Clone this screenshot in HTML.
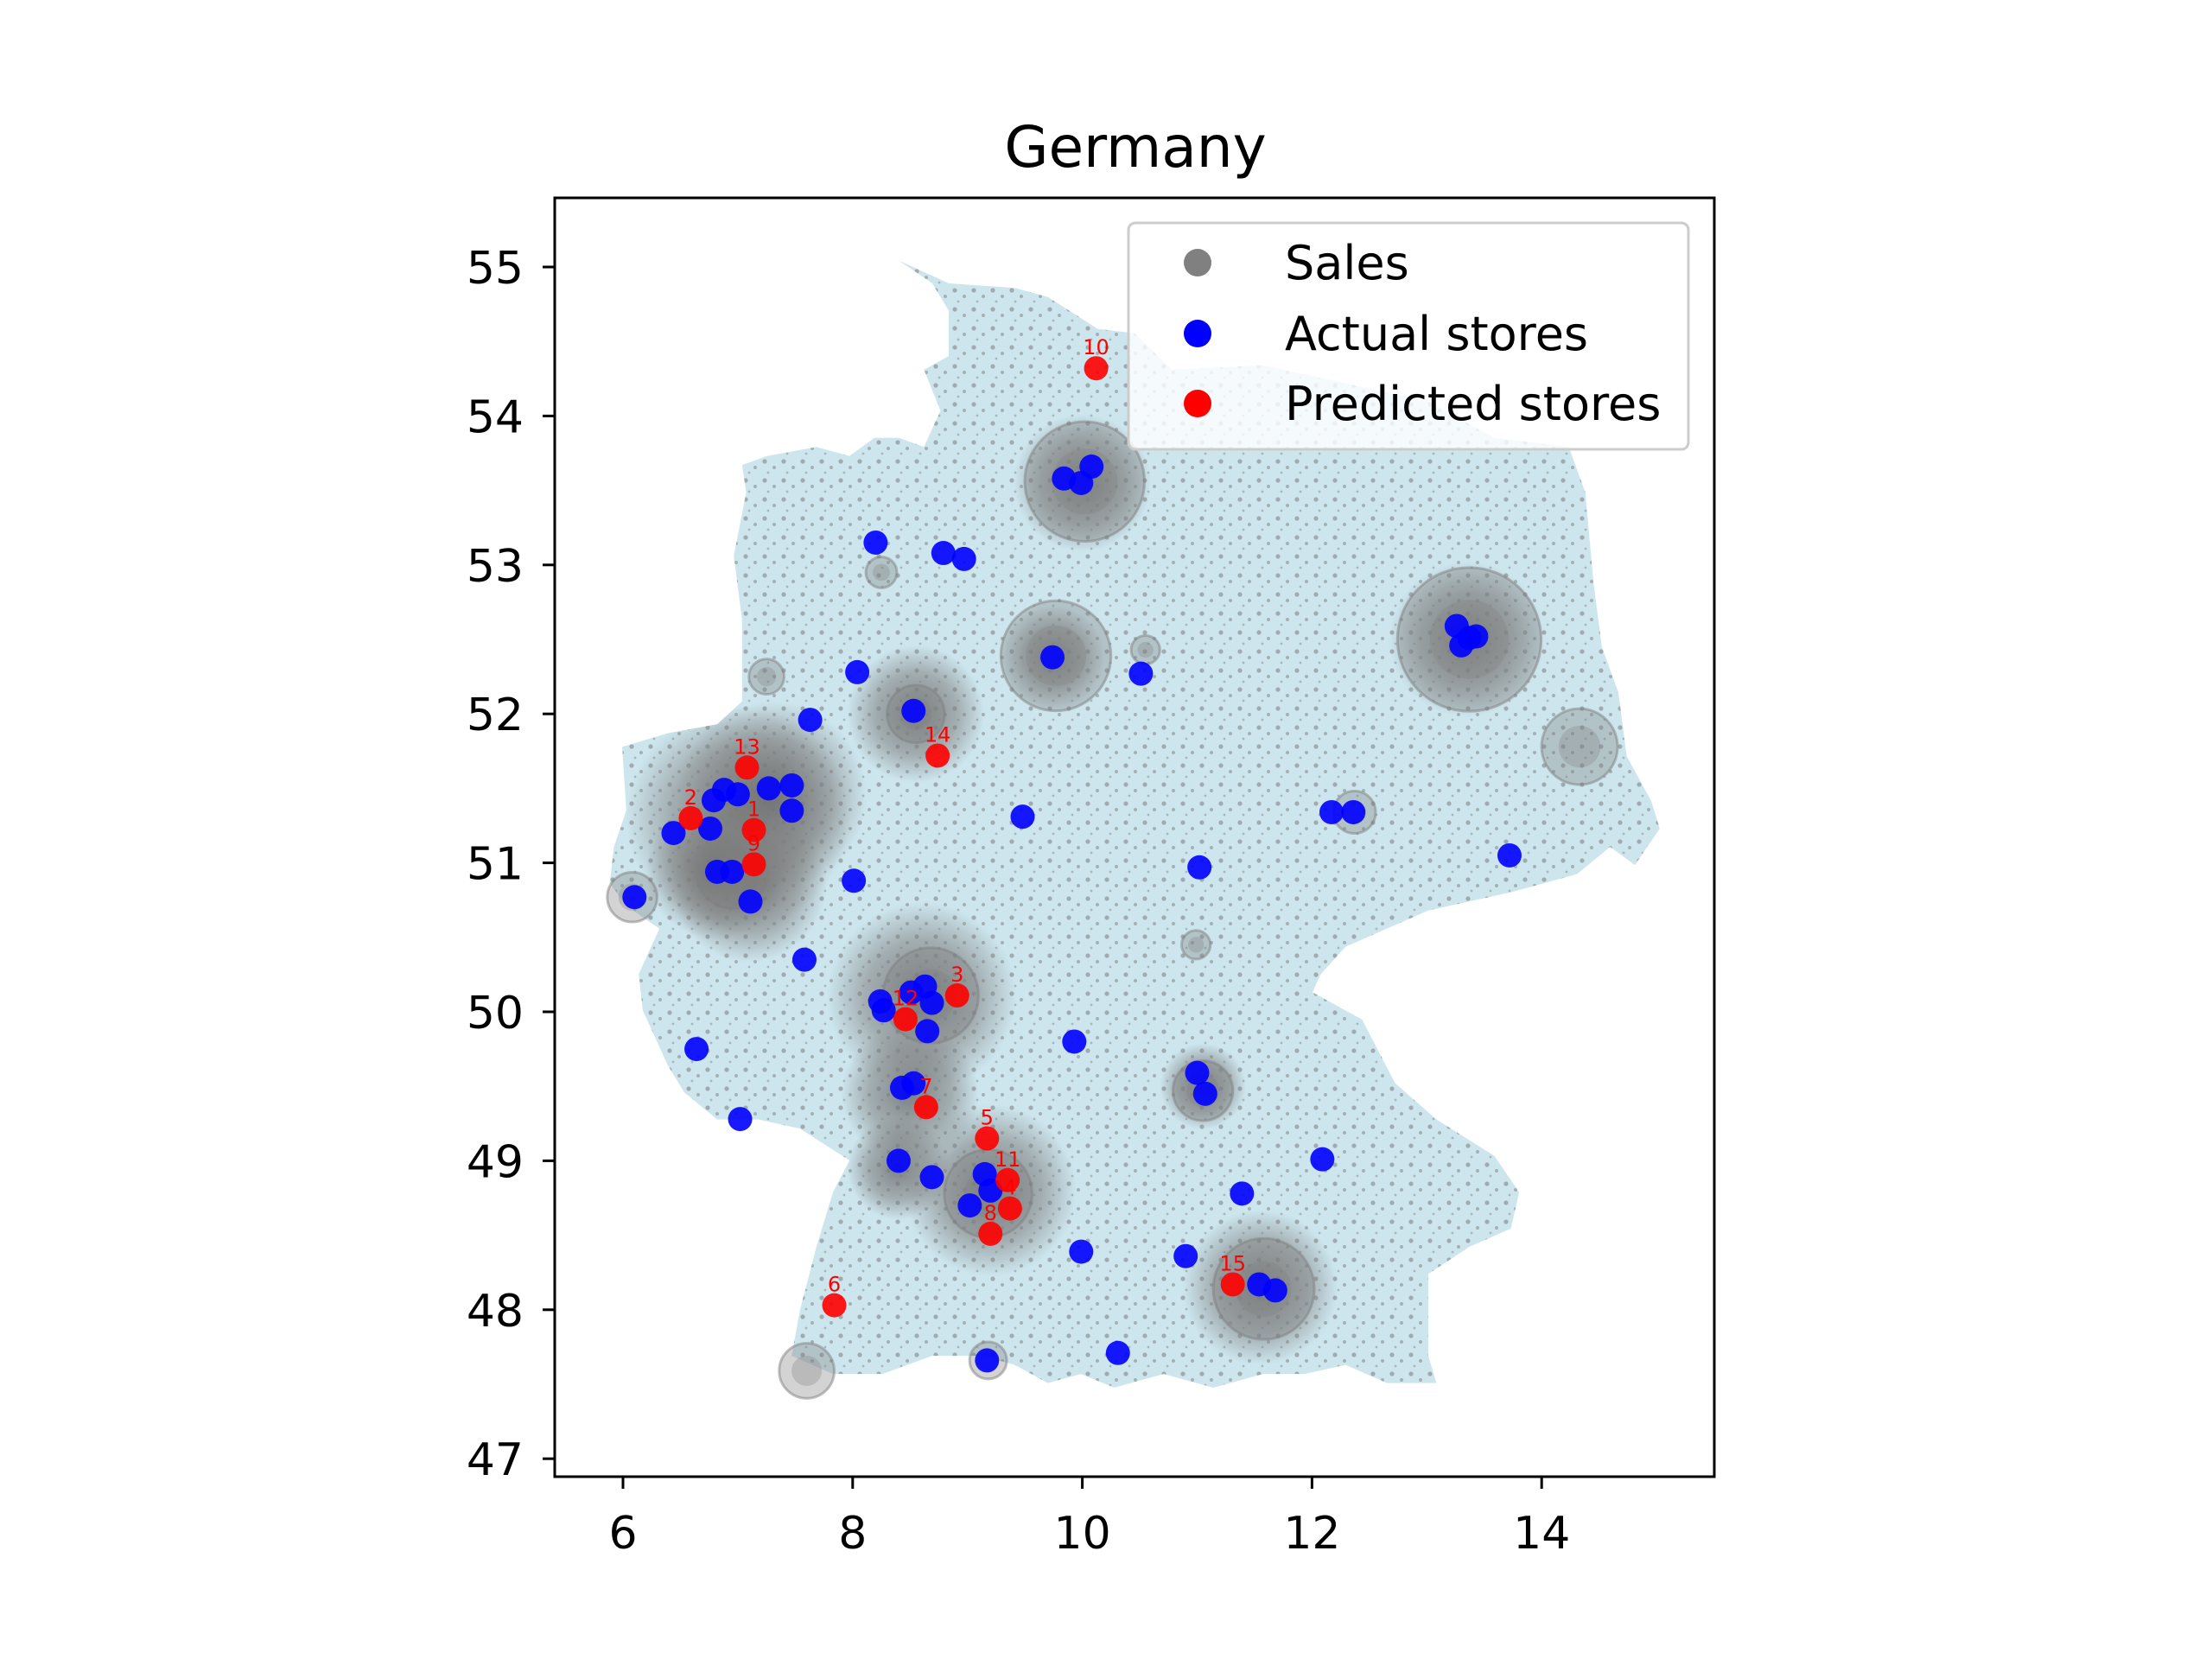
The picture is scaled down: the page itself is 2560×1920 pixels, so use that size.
<!DOCTYPE html>
<html><head><meta charset="utf-8">
<style>
html,body{margin:0;padding:0;background:#fff;}
svg{display:block;font-family:"DejaVu Sans","Liberation Sans",sans-serif;}
</style></head>
<body>
<svg id="chart" width="2560" height="1920" viewBox="0 0 2560 1920" xmlns="http://www.w3.org/2000/svg">
<defs>
  <clipPath id="axclip"><rect x="642" y="229" width="1342" height="1480"/></clipPath>
  <clipPath id="landclip"><polygon id="landclippoly" points=""/></clipPath>
  <pattern id="speck" width="22" height="22" patternUnits="userSpaceOnUse">
    <circle cx="5" cy="6" r="2.6" fill="#7a7a7a" opacity="0.55"/>
    <circle cx="16" cy="13" r="2.0" fill="#7a7a7a" opacity="0.5"/>
    <circle cx="9" cy="19" r="1.4" fill="#7a7a7a" opacity="0.45"/>
  </pattern>
  <radialGradient id="blob"><stop offset="0" stop-color="#6e6e6e" stop-opacity="0.85"/><stop offset="0.6" stop-color="#808080" stop-opacity="0.55"/><stop offset="1" stop-color="#808080" stop-opacity="0"/></radialGradient>
</defs>
<text x="1314" y="193" font-size="66" text-anchor="middle" fill="#000">Germany</text>
<g id="plot" clip-path="url(#axclip)"></g>
<rect x="642" y="229" width="1342" height="1480" fill="none" stroke="#000" stroke-width="3"/>
<g id="xticks"></g><g id="yticks"></g>
<g id="legend">
  <rect x="1306" y="258" width="648" height="262" rx="8" fill="#fff" fill-opacity="0.8" stroke="#ccc" stroke-width="3"/>
  <g><circle cx="1386" cy="304" r="16" fill="#808080"/><text x="1487" y="323" font-size="54">Sales</text></g>
  <g><circle cx="1386" cy="386" r="16" fill="#0000ff"/><text x="1487" y="405" font-size="54">Actual stores</text></g>
  <g><circle cx="1386" cy="467" r="16" fill="#ff0000"/><text x="1487" y="486" font-size="54">Predicted stores</text></g>
</g>
</svg>
<script>
const xTicks=[6,8,10,12,14];
const yTicks=[47,48,49,50,51,52,53,54,55];
const actualLon=[8.20,8.79,8.97,9.84,9.99,10.08,9.74,10.51,8.04,7.63,8.53,13.26,13.37,13.30,13.43,6.76,6.88,7.00,7.27,7.47,7.47,6.44,6.79,6.82,6.95,7.11,6.10,8.01,9.48,11.02,12.17,12.36,13.72,7.58,8.24,8.27,8.51,8.63,8.69,8.65,9.93,6.64,11.00,11.07,8.43,8.53,7.02,8.40,8.69,9.15,9.20,9.02,12.09,11.39,9.99,10.90,11.54,11.68,9.17,10.31];
const actualLat=[53.15,53.08,53.04,53.58,53.55,53.66,52.38,52.27,52.28,51.96,52.02,52.59,52.51,52.46,52.52,51.23,51.49,51.46,51.50,51.52,51.35,51.20,51.42,50.94,50.94,50.74,50.77,50.88,51.31,50.97,51.34,51.34,51.05,50.35,50.07,50.01,50.13,50.17,50.06,49.87,49.80,49.75,49.59,49.45,49.49,49.52,49.28,49.00,48.89,48.91,48.80,48.70,49.01,48.78,48.39,48.36,48.17,48.13,47.66,47.71];
const predLabels=[1,2,3,4,5,6,7,8,9,10,11,12,13,14,15];
const predLon=[7.14,6.59,8.91,9.37,9.17,7.84,8.64,9.20,7.14,10.12,9.35,8.46,7.08,8.74,11.31];
const predLat=[51.22,51.30,50.11,48.68,49.15,48.03,49.36,48.51,50.99,54.32,48.87,49.95,51.64,51.72,48.17];
const salesLon=[10.02,13.37,9.77,11.58,8.68,14.33,12.37,7.60,6.08,9.18,8.55,9.18,11.05,6.95,10.99,7.25,8.25,10.55];
const salesLat=[53.56,52.50,52.39,48.14,50.11,51.78,51.34,47.59,50.77,48.78,52.0,47.66,49.47,50.93,50.45,52.25,52.95,52.43];
const salesVal=[5200,7500,4400,3700,3300,2100,650,1100,900,2800,1200,500,1300,1800,300,450,350,300];
const clusterLon=[7.0,7.3,8.6,9.2,8.5,11.55,13.35,10.0,8.55,7.1,9.75,11.05,6.8,8.4];
const clusterLat=[51.3,51.45,50.1,48.8,49.45,48.15,52.5,53.55,52.0,50.85,52.38,49.5,50.95,48.95];
const clusterVal=[130,110,110,100,80,90,90,80,80,90,60,50,80,60];
const mapLon=[],mapLat=[];
const outline=[[460,95],[520,120],[600,125],[640,135],[700,170],[745,175],[790,215],[900,210],[1000,230],[1100,250],[1180,290],[1270,300],[1290,350],[1300,450],[1310,520],[1330,570],[1340,640],[1370,690],[1380,720],[1350,760],[1320,740],[1280,770],[1200,790],[1100,810],[1050,830],[1000,850],[970,880],[960,900],[1020,930],[1060,1000],[1110,1040],[1180,1080],[1210,1120],[1200,1160],[1150,1180],[1100,1210],[1100,1300],[1110,1330],[1050,1330],[1000,1310],[950,1320],[900,1320],[840,1335],[780,1320],[720,1335],[680,1320],[640,1330],[600,1310],[560,1300],[500,1300],[440,1320],[380,1320],[330,1300],[340,1250],[360,1180],[380,1120],[400,1085],[340,1050],[290,1040],[240,1040],[200,1010],[180,980],[150,920],[145,880],[170,830],[130,805],[110,780],[115,740],[130,700],[125,630],[180,615],[240,605],[270,580],[270,490],[260,420],[275,350],[270,320],[300,310],[360,300],[400,310],[430,290],[460,290],[490,300],[510,260],[490,215],[520,200],[520,150],[500,120]];
outline.forEach(p=>{mapLon.push(6+(p[0]-126)/138.9);mapLat.push(55-(p[1]-102)/163.9);});

const X=v=>721+(v-6)*132.9;
const Y=v=>309+(55-v)*172.4;
const NS='http://www.w3.org/2000/svg';
function mk(tag,attrs,parent){const e=document.createElementNS(NS,tag);for(const k in attrs)e.setAttribute(k,attrs[k]);parent.appendChild(e);return e;}
const plot=document.getElementById('plot');
const pts=mapLon.map((v,i)=>X(v)+','+Y(mapLat[i])).join(' ');
document.getElementById('landclippoly').setAttribute('points',pts);
const land=mk('polygon',{points:pts,fill:'#cde6ee'},plot);


const speck=mk('polygon',{points:pts,fill:'url(#speck)'},plot);


const cg=mk('g',{'clip-path':'url(#landclip)'},plot);


clusterLon.forEach((v,i)=>{
  const c=mk('circle',{cx:X(v),cy:Y(clusterLat[i]),r:clusterVal[i],fill:'url(#blob)'},cg);
  
  
});
salesLon.forEach((v,i)=>{
  const r=Math.sqrt(salesVal[i])*0.96;
  const c=mk('circle',{cx:X(v),cy:Y(salesLat[i]),r:r,fill:'#808080','fill-opacity':0.35,stroke:'#808080','stroke-opacity':0.5,'stroke-width':3},plot);
  
  
  const d=mk('circle',{cx:X(v),cy:Y(salesLat[i]),r:r*0.55,fill:'#808080','fill-opacity':0.3},plot);
  
  
});
actualLon.forEach((v,i)=>{
  const c=mk('circle',{cx:X(v),cy:Y(actualLat[i]),r:14,fill:'#0000ff','fill-opacity':0.9},plot);
  
  
});
predLon.forEach((v,i)=>{
  const c=mk('circle',{cx:X(v),cy:Y(predLat[i]),r:14,fill:'#ff0000','fill-opacity':0.9},plot);
  
  
  const t=mk('text',{x:X(v),y:Y(predLat[i])-16,'font-size':24,'text-anchor':'middle',fill:'#ff0000'},plot);
  t.textContent=predLabels[i];
  
  
});
const xg=document.getElementById('xticks');
xTicks.forEach(v=>{
  const l=mk('line',{x1:X(v),x2:X(v),y1:1709,y2:1723,stroke:'#000','stroke-width':3},xg);
  
  
  const t=mk('text',{x:X(v),y:1792,'font-size':52,'text-anchor':'middle'},xg);
  t.textContent=v;
  
  
});
const yg=document.getElementById('yticks');
yTicks.forEach(v=>{
  const l=mk('line',{x1:628,x2:642,y1:Y(v),y2:Y(v),stroke:'#000','stroke-width':3},yg);
  
  
  const t=mk('text',{x:606,y:Y(v)+19,'font-size':52,'text-anchor':'end'},yg);
  t.textContent=v;
  
  
});
</script>
</body></html>
